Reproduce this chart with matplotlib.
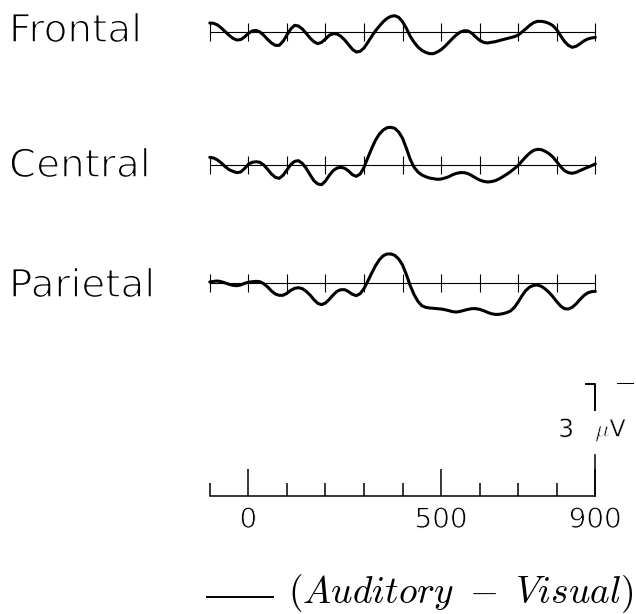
import matplotlib
matplotlib.use("Agg")
import matplotlib.pyplot as plt
import matplotlib.patheffects as pe
import numpy as np
from matplotlib.lines import Line2D

plt.rcParams["font.family"] = ["DejaVu Sans"]
plt.rcParams["mathtext.fontset"] = "cm"

# difference waves (Auditory - Visual), uV, every 10 ms from -100 to 900
# negative is plotted up
TIMES = np.arange(-100, 901, 10)
FRONTAL = [-1.04, -1.00, -0.81, -0.46, -0.04, 0.38, 0.73, 0.92, 0.88, 0.58,
           0.15, -0.12, -0.19, 0.00, 0.38, 0.85, 1.27, 1.54, 1.54, 1.08,
           0.35, -0.35, -0.77, -0.69, -0.35, 0.15, 0.69, 1.12, 1.35, 1.19,
           0.81, 0.38, 0.19, 0.23, 0.50, 0.92, 1.46, 2.00, 2.31, 2.23,
           1.85, 1.19, 0.50, -0.15, -0.69, -1.19, -1.58, -1.81, -1.88, -1.69,
           -1.19, -0.42, 0.50, 1.19, 1.73, 2.12, 2.35, 2.50, 2.50, 2.31,
           2.04, 1.65, 1.19, 0.73, 0.31, 0.00, -0.15, -0.12, 0.15, 0.58,
           0.96, 1.19, 1.27, 1.19, 1.12, 1.00, 0.88, 0.77, 0.65, 0.54,
           0.35, 0.00, -0.38, -0.77, -1.08, -1.23, -1.23, -1.15, -1.00, -0.73,
           -0.27, 0.42, 1.08, 1.54, 1.77, 1.65, 1.38, 1.04, 0.81, 0.69,
           0.62]
CENTRAL = [-0.88, -0.81, -0.58, -0.23, 0.19, 0.54, 0.73, 0.88, 0.81, 0.42,
           -0.08, -0.31, -0.38, -0.31, 0.00, 0.50, 1.04, 1.42, 1.54, 1.19,
           0.58, -0.04, -0.42, -0.50, -0.19, 0.38, 1.12, 1.81, 2.19, 2.27,
           1.85, 1.19, 0.65, 0.35, 0.27, 0.38, 0.69, 1.12, 1.31, 1.04,
           0.27, -0.85, -1.92, -2.88, -3.58, -4.04, -4.31, -4.35, -4.23, -3.81,
           -3.08, -1.92, -0.65, 0.27, 0.81, 1.15, 1.35, 1.50, 1.58, 1.65,
           1.62, 1.50, 1.35, 1.12, 0.96, 0.88, 0.88, 1.00, 1.23, 1.50,
           1.73, 1.88, 1.96, 1.92, 1.81, 1.62, 1.35, 1.08, 0.77, 0.42,
           0.04, -0.46, -0.96, -1.38, -1.69, -1.81, -1.77, -1.58, -1.31, -0.92,
           -0.38, 0.19, 0.65, 0.88, 0.96, 0.85, 0.65, 0.46, 0.27, 0.08,
           -0.12]
PARIETAL = [-0.12, -0.19, -0.23, -0.15, 0.00, 0.15, 0.27, 0.31, 0.23, 0.04,
            -0.08, -0.15, -0.19, -0.15, 0.08, 0.46, 0.92, 1.27, 1.42, 1.42,
            1.19, 0.85, 0.62, 0.54, 0.65, 0.96, 1.38, 1.92, 2.35, 2.50,
            2.31, 1.88, 1.38, 0.96, 0.77, 0.77, 1.00, 1.31, 1.46, 1.23,
            0.65, -0.23, -1.15, -2.00, -2.69, -3.15, -3.35, -3.35, -3.19, -2.77,
            -2.08, -0.96, 0.31, 1.35, 2.12, 2.62, 2.81, 2.88, 2.92, 2.96,
            3.00, 3.08, 3.19, 3.31, 3.35, 3.27, 3.15, 3.04, 2.96, 2.96,
            3.04, 3.19, 3.38, 3.54, 3.62, 3.62, 3.54, 3.42, 3.23, 2.81,
            2.19, 1.46, 0.85, 0.46, 0.27, 0.23, 0.38, 0.69, 1.08, 1.58,
            2.15, 2.65, 2.96, 3.00, 2.81, 2.42, 1.92, 1.46, 1.15, 1.00,
            0.96]
SITES = ["Frontal", "Central", "Parietal"]
WAVES = [FRONTAL, CENTRAL, PARIETAL]
TICKS = np.arange(-100, 901, 100)
SCALE_LABELS = [0, 500, 900]
CAL_UV = 3

# layout in pixels
W, H = 636, 614
X_LEFT, X_RIGHT = 209.8, 595.3
UV = 26 / 3                      # px per microvolt
ROW_Y = [32, 165, 283]           # baseline of each trace
LABEL_Y = [42, 177, 297]         # text baseline of site names

# the original lettering is a thin stroke font: shave the glyph edges
THIN = [pe.Stroke(linewidth=1.1, foreground="white")]
THIN_SMALL = [pe.Stroke(linewidth=0.7, foreground="white")]
THIN_TINY = [pe.Stroke(linewidth=0.4, foreground="white")]

fig = plt.figure(figsize=(W / 100, H / 100), dpi=100)


def axes_px(top, bottom):
    return fig.add_axes([X_LEFT / W, 1 - bottom / H,
                         (X_RIGHT - X_LEFT) / W, (bottom - top) / H])


for name, wave, y0, ly in zip(SITES, WAVES, ROW_Y, LABEL_Y):
    ax = axes_px(y0 - 5 * UV, y0 + 5 * UV)
    ax.plot(TIMES, wave, color="black", lw=2.2, solid_joinstyle="round",
            solid_capstyle="round", clip_on=False)
    ax.set_xlim(-100, 900)
    ax.set_ylim(5, -5)
    for s in ["left", "right", "top"]:
        ax.spines[s].set_visible(False)
    ax.spines["bottom"].set_position(("data", 0))
    ax.spines["bottom"].set_linewidth(0.8)
    ax.set_xticks(TICKS)
    ax.set_yticks([])
    ax.tick_params(axis="x", direction="inout", length=12.5, width=0.8,
                   labelbottom=False)
    ax.patch.set_visible(False)
    fig.text(9 / W, 1 - ly / H, name, fontsize=28, ha="left", va="baseline",
             path_effects=THIN)

# time scale + calibration bar
base = 496
sax = axes_px(370, 530)
sax.set_xlim(-100, 900)
sax.set_ylim(-(530 - base) / UV, (base - 370) / UV)
for s in ["left", "right", "top"]:
    sax.spines[s].set_visible(False)
sax.spines["bottom"].set_position(("data", 0))
sax.spines["bottom"].set_linewidth(1.1)
sax.set_yticks([])
sax.set_xticks(SCALE_LABELS)
sax.set_xticklabels([str(v) for v in SCALE_LABELS])
sax.set_xticks(TICKS, minor=True)
sax.tick_params(axis="x", which="major", direction="in", length=19.4,
                width=1.1, labelsize=20, pad=7)
sax.tick_params(axis="x", which="minor", direction="in", length=9.6,
                width=1.1)
for lab in sax.get_xticklabels():
    lab.set_path_effects(THIN_SMALL)
sax.patch.set_visible(False)

sax.plot([900, 900], [0, 41 / UV], color="black", lw=1.1, clip_on=False)
cal_bottom = 86 / UV
sax.plot([877, 900, 900], [cal_bottom + CAL_UV, cal_bottom + CAL_UV, cal_bottom],
         color="black", lw=1.4, clip_on=False)
sax.annotate("\u2212", xy=(900, cal_bottom + CAL_UV), xytext=(13, 0),
             textcoords="offset points", ha="left", va="center",
             fontsize=20, annotation_clip=False, path_effects=THIN_SMALL)
sax.annotate(f"{CAL_UV}", xy=(900, cal_bottom - 2.3), xytext=(-21, 0),
             textcoords="offset points", ha="center", va="center",
             fontsize=18, annotation_clip=False, path_effects=THIN_TINY)
sax.annotate(r"$\mu$V", xy=(900, cal_bottom - 2.3), xytext=(0, 0),
             textcoords="offset points", ha="left", va="center",
             fontsize=17, annotation_clip=False, path_effects=THIN_TINY)

# legend
fig.add_artist(Line2D([207 / W, 273 / W], [1 - 597 / H] * 2,
                      transform=fig.transFigure, color="black", lw=1.4))
fig.text(288 / W, 1 - 603 / H, r"$(Auditory\ -\ Visual)$", fontsize=27,
         ha="left", va="baseline")

fig.savefig("out.png", dpi=100, facecolor="white")
